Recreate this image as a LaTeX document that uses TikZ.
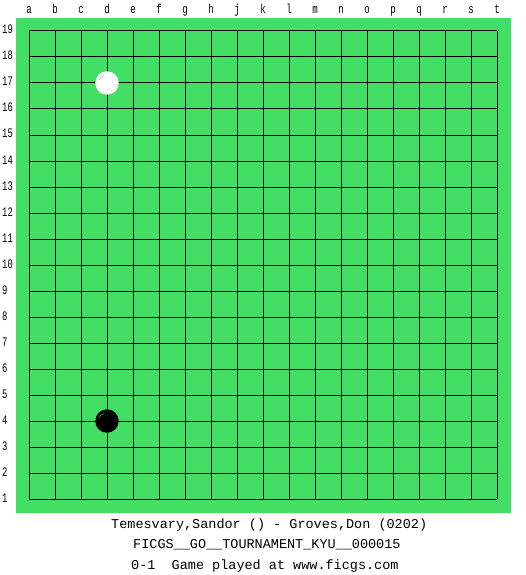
\documentclass[tikz,border=0pt]{standalone}
\usepackage{fontspec}
\setmonofont{Liberation Mono}
\definecolor{board}{RGB}{67,222,100}
\begin{document}
\begin{tikzpicture}[x=1pt,y=-1pt,
  gridline/.style={line width=1pt,black},
  lbl/.style={font=\fontsize{13}{15}\selectfont\ttfamily,inner sep=0pt},
  info/.style={font=\fontsize{13.5}{16}\selectfont\ttfamily,inner sep=0pt,anchor=base west},
  stone/.style={circle,inner sep=0pt,minimum size=23.5pt},
  whitestone/.style={stone,fill=white},
  blackstone/.style={stone,fill=black}]
\useasboundingbox (0,0) rectangle (525,575);
\fill[white] (0,0) rectangle (525,575);
\fill[board] (16,18) rectangle (511,513);
\foreach \k in {0,...,18} {
  \draw[gridline] (29+26*\k,31) -- (29+26*\k,499);
  \draw[gridline] (29,31+26*\k) -- (497,31+26*\k);
}
\foreach \l [count=\i from 0] in {a,b,c,d,e,f,g,h,j,k,l,m,n,o,p,q,r,s,t}
  \node[lbl,anchor=base] (col\l) at (29+26*\i,14) {\scalebox{0.7}[1]{\l}};
\foreach \n in {1,...,19}
  \node[lbl,anchor=base west] (row\n) at (2,31+26*19-26*\n+3) {\scalebox{0.68}[1]{\n}};
\node[whitestone] (w17) at (107,83) {};
\draw[gray!50,line width=0.8pt] (107,83) ++(200:8.5) arc[start angle=200,end angle=245,radius=8.5];
\node[blackstone] (b4) at (107,421) {};
\draw[board!60!black,line width=0.8pt] (107,421) ++(200:8.5) arc[start angle=200,end angle=245,radius=8.5];
\node[info] (l1) at (111,528.5) {Temesvary,Sandor () - Groves,Don (0202)};
\node[info] (l2) at (133,548.5) {FICGS\_\_GO\_\_TOURNAMENT\_KYU\_\_000015};
\node[info] (l3) at (131,569) {0-1\ \ Game played at www.ficgs.com};
\end{tikzpicture}
\end{document}
